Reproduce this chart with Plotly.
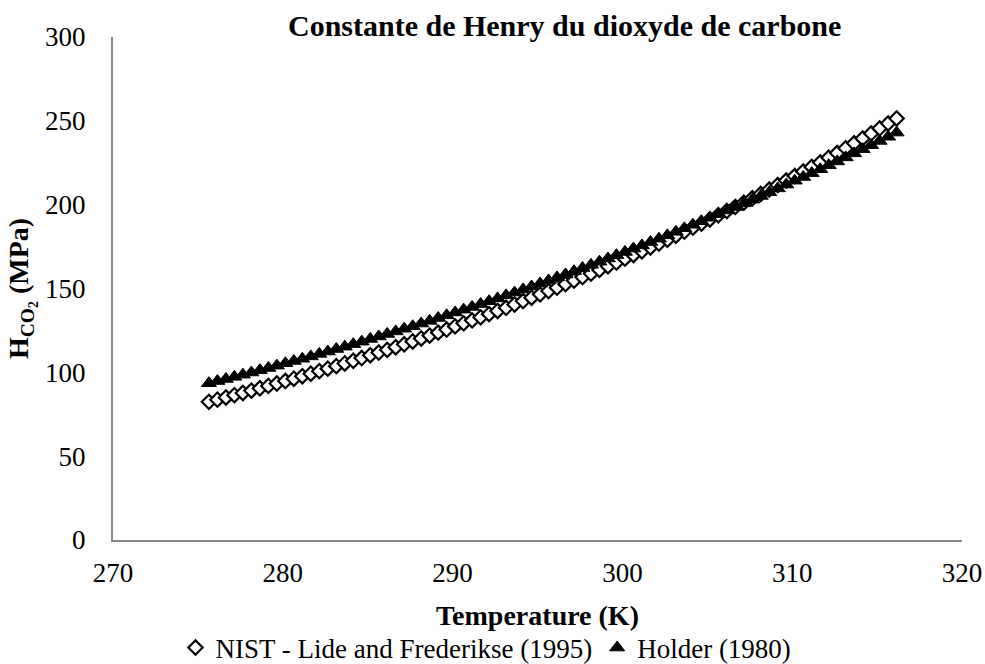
import plotly.graph_objects as go

# Temperature grid (K)
temperature = [
    275.65, 276.15, 276.65, 277.15, 277.65, 278.15, 278.65, 279.15, 279.65, 280.15,
    280.65, 281.15, 281.65, 282.15, 282.65, 283.15, 283.65, 284.15, 284.65, 285.15,
    285.65, 286.15, 286.65, 287.15, 287.65, 288.15, 288.65, 289.15, 289.65, 290.15,
    290.65, 291.15, 291.65, 292.15, 292.65, 293.15, 293.65, 294.15, 294.65, 295.15,
    295.65, 296.15, 296.65, 297.15, 297.65, 298.15, 298.65, 299.15, 299.65, 300.15,
    300.65, 301.15, 301.65, 302.15, 302.65, 303.15, 303.65, 304.15, 304.65, 305.15,
    305.65, 306.15, 306.65, 307.15, 307.65, 308.15, 308.65, 309.15, 309.65, 310.15,
    310.65, 311.15, 311.65, 312.15, 312.65, 313.15, 313.65, 314.15, 314.65, 315.15,
    315.65, 316.15,
]

# Henry constant of CO2 (MPa), NIST - Lide and Frederikse (1995)
h_nist = [
    82.4, 83.7, 85.0, 86.4, 87.7, 89.1, 90.5, 91.9, 93.3, 94.8,
    96.2, 97.7, 99.2, 100.7, 102.2, 103.7, 105.3, 106.9, 108.5, 110.2,
    111.8, 113.4, 115.0, 116.7, 118.4, 120.2, 121.9, 123.7, 125.5, 127.4,
    129.2, 131.0, 132.8, 134.7, 136.6, 138.5, 140.5, 142.5, 144.5, 146.5,
    148.5, 150.5, 152.6, 154.7, 156.8, 158.9, 161.1, 163.3, 165.5, 167.8,
    170.0, 172.2, 174.5, 176.8, 179.1, 181.5, 183.9, 186.3, 188.7, 191.2,
    193.7, 196.2, 198.7, 201.2, 203.8, 206.4, 209.0, 211.7, 214.4, 217.1,
    219.8, 222.5, 225.2, 228.0, 230.8, 233.7, 236.6, 239.5, 242.5, 245.5,
    248.5, 251.4,
]

# Henry constant of CO2 (MPa), Holder (1980)
h_holder = [
    93.5, 94.8, 96.0, 97.3, 98.6, 99.9, 101.3, 102.6, 104.0, 105.4,
    106.8, 108.1, 109.5, 111.0, 112.4, 113.9, 115.3, 116.8, 118.3, 119.9,
    121.4, 122.9, 124.4, 126.0, 127.5, 129.1, 130.7, 132.4, 134.0, 135.7,
    137.4, 139.0, 140.7, 142.4, 144.1, 145.9, 147.6, 149.4, 151.2, 153.0,
    154.8, 156.6, 158.4, 160.3, 162.2, 164.1, 166.0, 167.9, 169.9, 171.8,
    173.8, 175.7, 177.7, 179.7, 181.7, 183.8, 185.9, 188.0, 190.1, 192.2,
    194.3, 196.5, 198.6, 200.8, 203.0, 205.2, 207.4, 209.7, 212.0, 214.3,
    216.5, 218.8, 221.1, 223.5, 225.8, 228.2, 230.6, 233.1, 235.5, 238.0,
    240.5, 243.0,
]

series_names = ["NIST - Lide and Frederikse (1995)", "Holder (1980)"]

FONT = "Liberation Serif"
AXIS_GRAY = "#868686"

fig = go.Figure()

fig.add_trace(go.Scatter(
    x=temperature, y=h_nist, mode="markers", name=series_names[0],
    marker=dict(symbol="diamond", size=11, color="white",
                line=dict(color="black", width=2.2)),
))

fig.add_trace(go.Scatter(
    x=temperature, y=h_holder, mode="markers", name=series_names[1],
    marker=dict(symbol="triangle-up", size=13, color="black",
                line=dict(color="black", width=1)),
))

fig.update_layout(
    width=985, height=664,
    margin=dict(l=113, r=23, t=37, b=124, autoexpand=False),
    paper_bgcolor="white", plot_bgcolor="white",
    font=dict(family=FONT, size=27, color="black"),
    title=dict(
        text="Constante de Henry du dioxyde de carbone",
        font=dict(family=FONT, size=30, color="black", weight="bold"),
        x=524 / 985, xanchor="center", xref="paper",
        y=1 - 25 / 664, yanchor="middle", yref="container",
    ),
    xaxis=dict(
        range=[270, 320], dtick=10, tick0=270,
        showgrid=False, zeroline=False,
        showline=True, linecolor=AXIS_GRAY, linewidth=2,
        ticks="", ticklabelstandoff=8,
        tickfont=dict(family=FONT, size=27, color="black"),
        title=dict(text="Temperature (K)", standoff=18,
                   font=dict(family=FONT, size=28, color="black", weight="bold")),
    ),
    yaxis=dict(
        range=[0, 300], dtick=50, tick0=0,
        showgrid=False, zeroline=False,
        showline=True, linecolor=AXIS_GRAY, linewidth=2,
        ticks="", ticklabelstandoff=20,
        tickfont=dict(family=FONT, size=27, color="black"),
        title=dict(text="H<sub>CO<sub>2</sub></sub> (MPa)", standoff=8,
                   font=dict(family=FONT, size=28, color="black", weight="bold")),
    ),
    legend=dict(
        orientation="h",
        x=(486 - 113) / 849, xanchor="center",
        y=(540 - 648) / 503, yanchor="middle",
        font=dict(family=FONT, size=27, color="black"),
        itemwidth=30, bgcolor="rgba(0,0,0,0)",
    ),
    showlegend=True,
)

fig.write_html("out.html")
